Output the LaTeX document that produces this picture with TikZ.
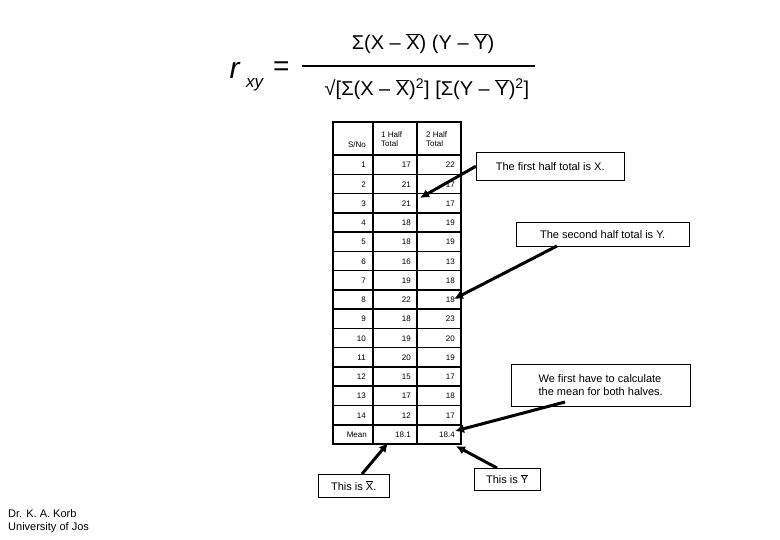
\documentclass[tikz,border=0pt]{standalone}
\usepackage{fontspec}
\setmainfont{Liberation Sans}
\begin{document}
\begin{tikzpicture}[x=1pt,y=-1pt,
  cell/.style={font=\fontsize{8}{9}\selectfont,anchor=east,inner sep=0},
  callout/.style={draw,font=\fontsize{11}{13}\selectfont,align=left,inner sep=3pt,anchor=north west},
  arr/.style={line width=3pt,-{Latex[length=9pt,width=9pt]}}]
\usetikzlibrary{arrows.meta}
\useasboundingbox (0,0) rectangle (780,540);
\newcommand{\ob}[1]{$\overline{\mbox{#1}}$}
% formula
\node[font=\fontsize{30}{30}\selectfont\itshape,anchor=west] (r) at (226,70) {r};
\node[font=\fontsize{17}{17}\selectfont\itshape,anchor=west,inner sep=0] (xy) at (246,85) {xy};
\node[font=\fontsize{28}{28}\selectfont,anchor=west,inner sep=0] (eq) at (273,69) {=};
\node[font=\fontsize{20}{20}\selectfont] (num) at (423,44) {Σ(X – \ob{X}) (Y – \ob{Y})};
\node[font=\fontsize{20}{20}\selectfont] (den) at (427,89) {√[Σ(X – \ob{X})\textsuperscript{2}] [Σ(Y – \ob{Y})\textsuperscript{2}]};
\draw[line width=2pt] (302,66) -- (535,66);
% table
\draw[line width=1.5pt] (333,122) rectangle (461,444);
\draw[line width=1.5pt] (373,122) -- (373,444) (417,122) -- (417,444);
\foreach \i in {0,...,14} { \draw[line width=1.5pt] (333,{155+\i*19.27}) -- (461,{155+\i*19.27}); }
\node[cell] (h1) at (366,145) {S/No};
\node[cell,align=left,anchor=west] (h2) at (381,139) {1 Half\\Total};
\node[cell,align=left,anchor=west] (h3) at (426,139) {2 Half\\Total};
\foreach \n/\a/\b [count=\i from 0] in {1/17/22,2/21/17,3/21/17,4/18/19,5/18/19,6/16/13,7/19/18,8/22/18,9/18/23,10/19/20,11/20/19,12/15/17,13/17/18,14/12/17} {
  \node[cell] at (366,{165+\i*19.27}) {\n};
  \node[cell] at (411,{165+\i*19.27}) {\a};
  \node[cell] at (455,{165+\i*19.27}) {\b};
}
\node[cell] (m0) at (367,434.5) {Mean};
\node[cell] (m1) at (411,434.5) {18.1};
\node[cell] (m2) at (455,434.5) {18.4};
% callouts
\node[callout,minimum width=148pt,minimum height=28pt] (c1) at (476,152) {The first half total is X.};
\node[callout,minimum width=173pt,minimum height=24pt] (c2) at (516,222) {The second half total is Y.};
\node[callout,minimum width=179pt,minimum height=42pt] (c3) at (511,364) {We first have to calculate\\the mean for both halves.};
\node[callout,minimum width=71pt,minimum height=23pt] (c4) at (318,474) {This is \ob{X}.};
\node[callout,minimum width=66pt,minimum height=22pt] (c5) at (474,468) {This is \ob{Y}};
\coordinate (t1) at (420,198);
\coordinate (t2) at (454,299);
\coordinate (t3) at (455,431);
\coordinate (t4) at (388,443);
\coordinate (t5) at (456,446);
\draw[arr] (c1.west) -- (t1);
\draw[arr] (557,246) -- (t2);
\draw[arr] (565,402) -- (t3);
\draw[arr] (362,474) -- (t4);
\draw[arr] (497,468) -- (t5);
% footer
\node[font=\fontsize{11}{13}\selectfont,align=left,anchor=north west,inner sep=0] (ft) at (8,509) {Dr. K. A. Korb\\University of Jos};
\end{tikzpicture}
\end{document}
